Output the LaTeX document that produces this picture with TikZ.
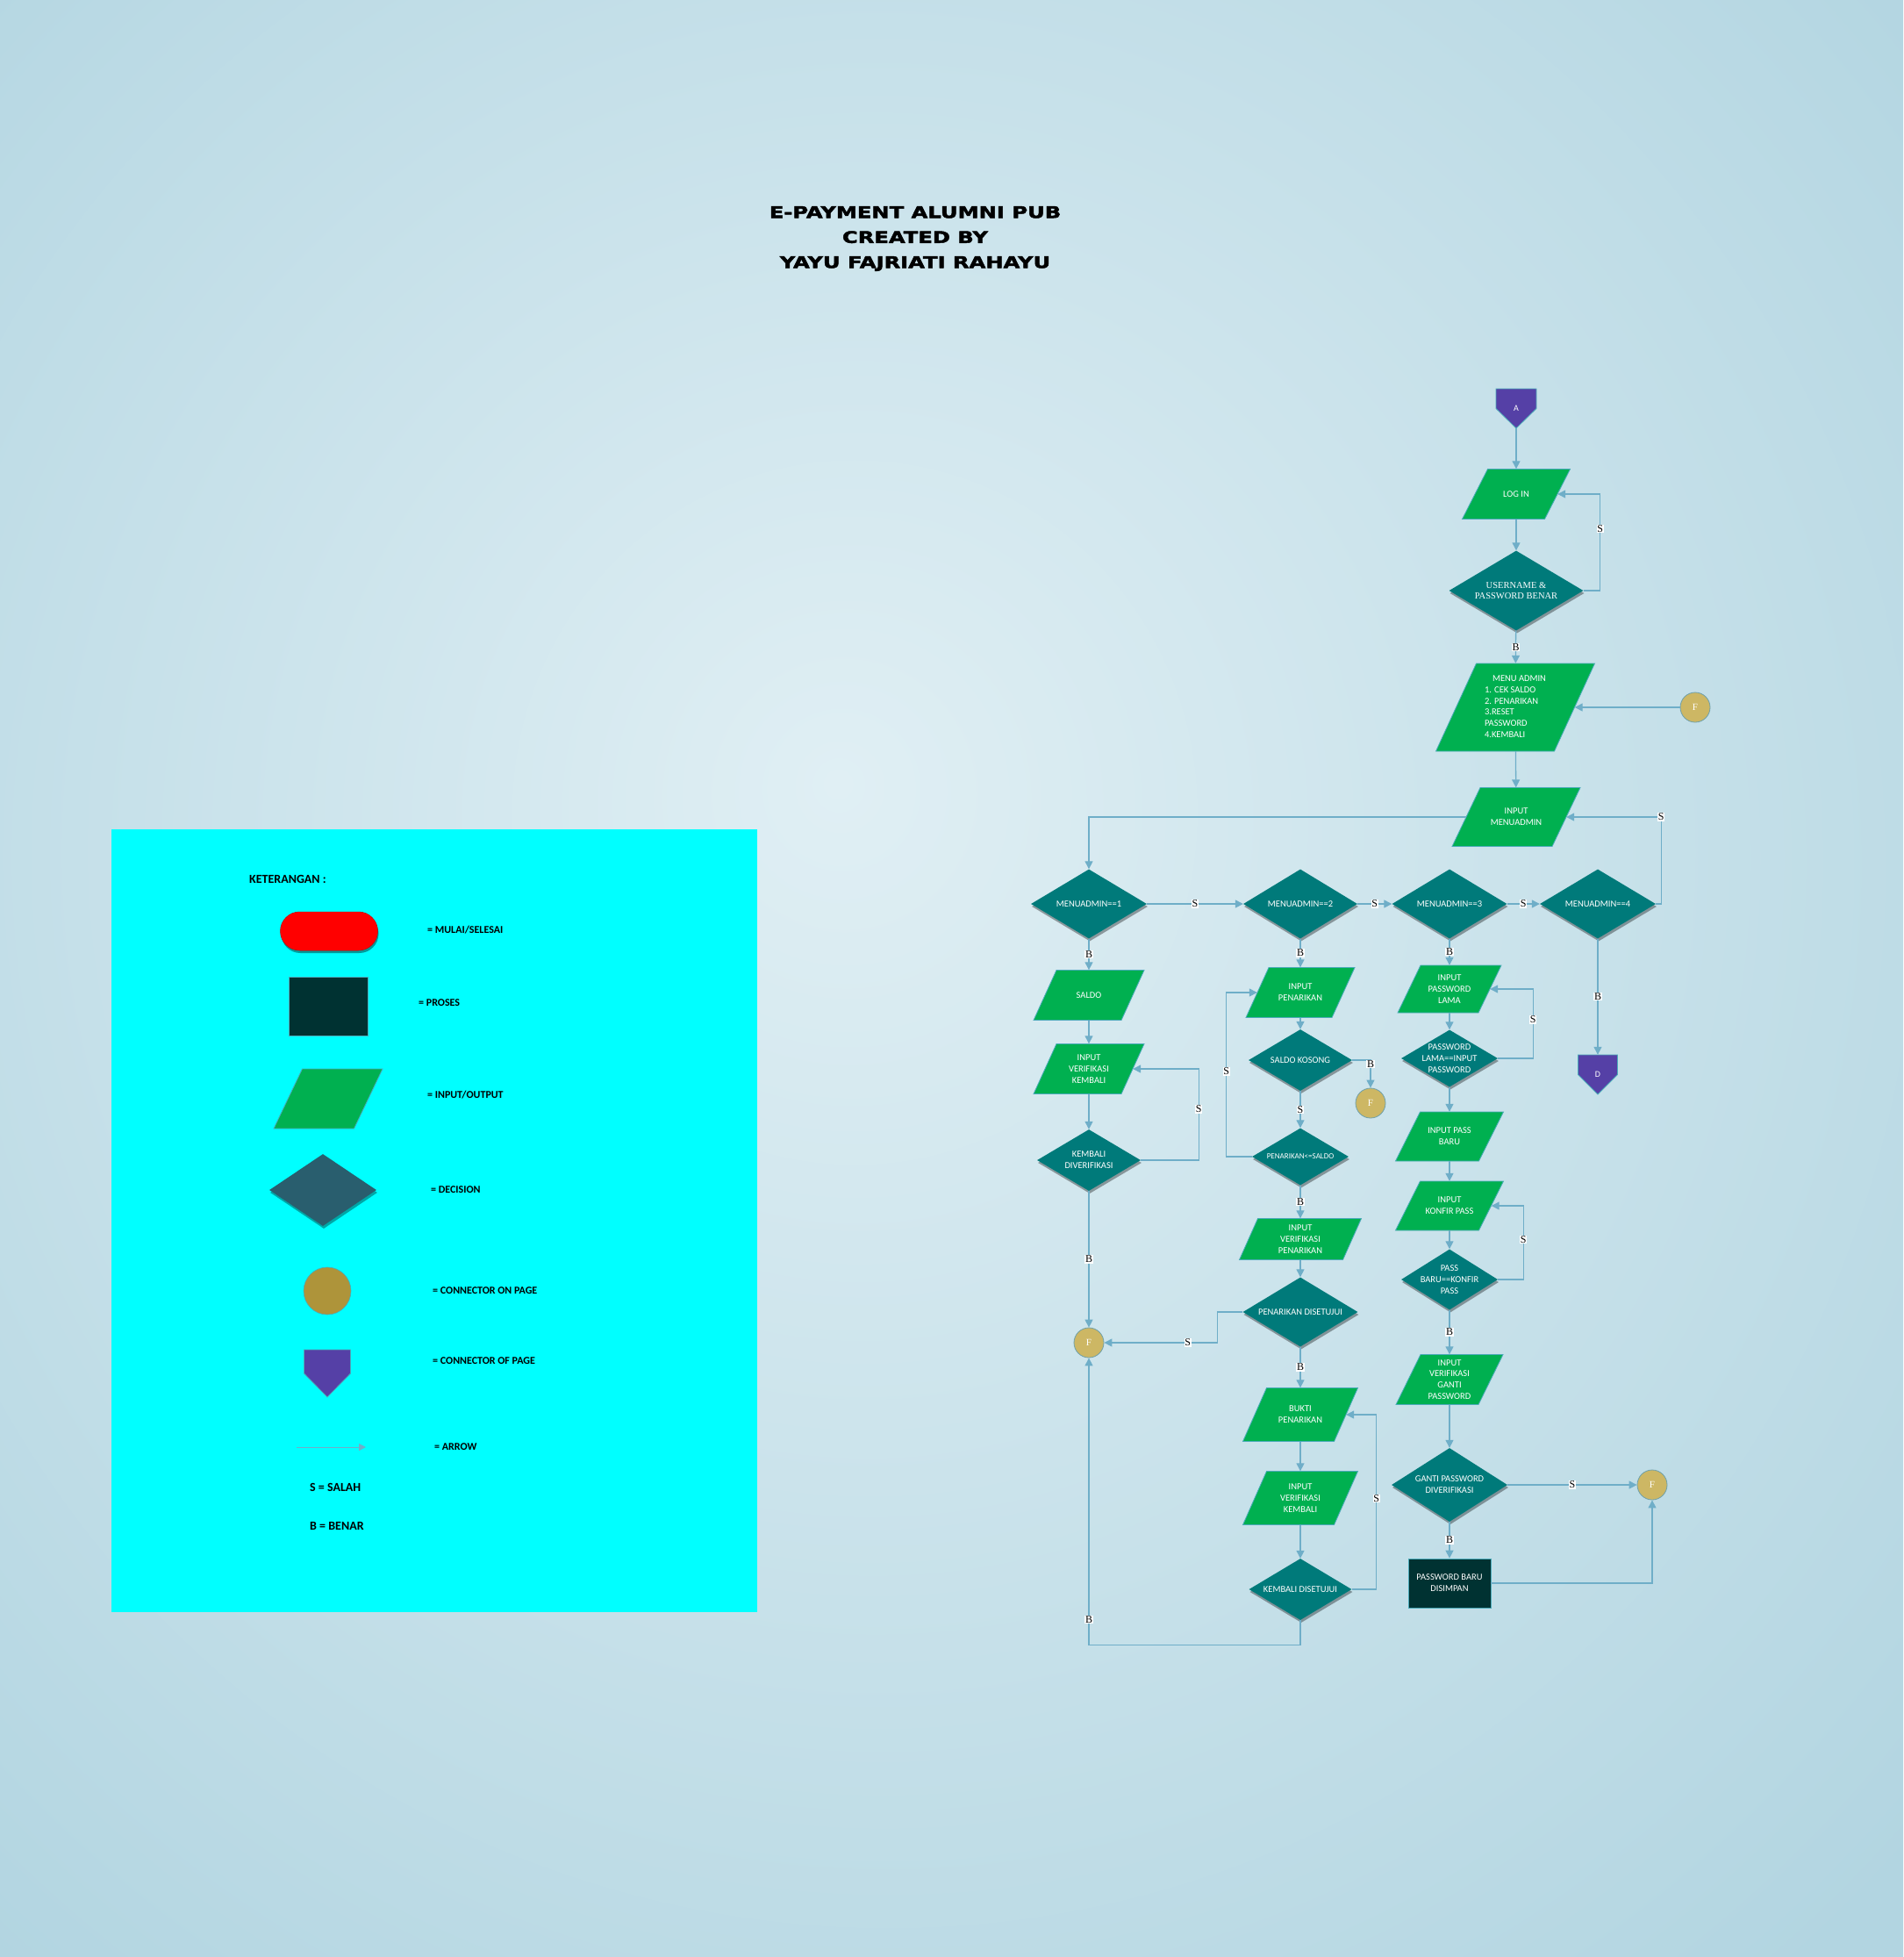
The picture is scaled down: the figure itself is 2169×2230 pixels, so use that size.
\documentclass[tikz,border=0pt]{standalone}
\usepackage{fontspec}
\setmainfont{Carlito}
\newfontfamily\serifface{Liberation Serif}
\newfontfamily\titleface[FakeStretch=1.33,FakeBold=2.5]{DejaVu Sans}
\usetikzlibrary{shapes.geometric,arrows.meta,shadows}
\definecolor{bgin}{RGB}{224,239,244}
\definecolor{bgout}{RGB}{178,213,225}
\definecolor{ioc}{RGB}{0,176,80}
\definecolor{iobord}{RGB}{75,170,185}
\definecolor{decc}{RGB}{0,122,122}
\definecolor{procc}{RGB}{0,50,50}
\definecolor{onc}{RGB}{205,183,100}
\definecolor{onbord}{RGB}{110,160,170}
\definecolor{offc}{RGB}{85,64,166}
\definecolor{arrowc}{RGB}{111,174,200}
\definecolor{legcyan}{RGB}{0,255,255}
\definecolor{legdec}{RGB}{41,94,110}
\definecolor{legon}{RGB}{174,148,58}
\pgfdeclareradialshading{bgshade}{\pgfpoint{-3bp}{5bp}}{color(0bp)=(bgin); color(36bp)=(bgout); color(60bp)=(bgout)}
\newcommand\iobox[7]{%
  \path[iofill] (#2-#4/2+#6/2,#3-#5/2) -- (#2+#4/2+#6/2,#3-#5/2) -- (#2+#4/2-#6/2,#3+#5/2) -- (#2-#4/2-#6/2,#3+#5/2) -- cycle;
  \node[iotext, minimum width=#4pt, minimum height=#5pt] (#1) at (#2,#3) {#7};}
\newcommand\offpg[6]{%
  \path[offfill] (#2-#4/2,#3) -- (#2+#4/2,#3) -- (#2+#4/2,#3+#5/2) -- (#2,#3+#5) -- (#2-#4/2,#3+#5/2) -- cycle;
  \node[offtext, minimum width=#4pt, minimum height=#5pt] (#1) at (#2,#3+#5/2) {#6};}
\tikzset{
  arr/.style={draw=arrowc, line width=1.3pt, -{Triangle[length=9pt,width=9pt]}},
  iofill/.style={fill=ioc, draw=iobord, line width=0.8pt},
  iotext/.style={rectangle, inner sep=0pt, text=white, align=center, font=\fontsize{10.5}{12.8}\selectfont},
  dec/.style={diamond, inner sep=0pt, fill=decc, drop shadow={shadow xshift=1pt, shadow yshift=-3pt, opacity=0.35, fill=black}},
  dtext/.style={text=white, align=center, inner sep=0pt, font=\fontsize{10.5}{12.8}\selectfont},
  onpage/.style={circle, minimum size=34pt, inner sep=0pt, fill=onc, draw=onbord, line width=0.8pt, text=white, font=\serifface\fontsize{11}{11}\selectfont},
  offfill/.style={fill=offc, draw=iobord, line width=0.8pt},
  offtext/.style={rectangle, inner sep=0pt, text=white, font=\fontsize{10}{10}\selectfont},
  proc/.style={rectangle, fill=procc, draw=iobord, line width=0.8pt, text=white, align=center, inner sep=0pt, font=\fontsize{10.5}{12.8}\selectfont},
  lbl/.style={fill=white, inner sep=0.7pt, text=black, font=\serifface\fontsize{12}{12}\selectfont},
  legtext/.style={anchor=west, text=black, inner sep=0pt, font=\bfseries\fontsize{12}{12}\selectfont},
  legbig/.style={anchor=west, text=black, inner sep=0pt, font=\bfseries\fontsize{14}{14}\selectfont},
  titlestyle/.style={align=center, text=black, inner sep=0pt, font=\titleface\bfseries\fontsize{18.2}{28.5}\selectfont},
}
\begin{document}
\begin{tikzpicture}[x=1pt,y=-1pt]
\useasboundingbox (0,0) rectangle (2169,2230);
\shade[shading=bgshade] (0,0) rectangle (2169,2230);

% title
\node[titlestyle] (title) at (1043,272) {E-PAYMENT ALUMNI PUB\\CREATED BY\\YAYU FAJRIATI RAHAYU};

% legend
\fill[legcyan] (127,945) rectangle (863,1837);
\node[legbig] (ket) at (284,1002) {KETERANGAN :};
\node[rectangle, rounded corners=22pt, minimum width=111pt, minimum height=44pt, fill=red, draw=red!80!black, line width=0.5pt, drop shadow={shadow xshift=1pt, shadow yshift=-3pt, opacity=0.4, fill=black}] (lterm) at (375,1061) {};
\node[legtext] (lterm-t) at (487,1060) {= MULAI/SELESAI};
\node[rectangle, fill=procc, draw=iobord, line width=0.8pt, minimum width=90pt, minimum height=67pt] (lproc) at (374,1147) {};
\node[legtext] (lproc-t) at (477,1143) {= PROSES};
\iobox{lio}{374}{1252}{91.5}{68}{32.5}{}
\node[legtext] (lio-t) at (487,1248) {= INPUT/OUTPUT};
\node[dec, fill=legdec, minimum width=122pt, minimum height=82pt] (ldec) at (368,1356) {};
\node[legtext] (ldec-t) at (491,1356) {= DECISION};
\node[circle, minimum size=54pt, inner sep=0pt, fill=legon, draw=iobord, line width=0.6pt] (lon) at (373,1471) {};
\node[legtext] (lon-t) at (493,1471) {= CONNECTOR ON PAGE};
\offpg{loff}{373}{1538}{53}{54}{}
\node[legtext] (loff-t) at (493,1551) {= CONNECTOR OF PAGE};
\coordinate (la1) at (338,1649);
\coordinate (la2) at (417,1649);
\draw[arr, line width=1pt, -{Triangle[length=8pt,width=8pt]}] (la1) -- (la2);
\node[legtext] (larr-t) at (495,1649) {= ARROW};
\node[legbig] (ls) at (353,1695) {S = SALAH};
\node[legbig] (lb) at (353,1739) {B = BENAR};

% ===== flowchart =====
\offpg{A}{1728}{443}{46}{45}{A}
\iobox{login}{1728}{563}{94}{57}{29}{LOG IN}
\node[dec, minimum width=153pt, minimum height=91pt, label={[dtext, font=\serifface\fontsize{10.5}{12}\selectfont]center:USERNAME \&\\PASSWORD BENAR}] (user) at (1728,673) {};
\iobox{menu}{1727}{806}{135}{100}{46}{\begin{tabular}{@{}l@{}}\hspace*{9pt}MENU ADMIN\\1. CEK SALDO\\2. PENARIKAN\\3.RESET\\PASSWORD\\4.KEMBALI\end{tabular}}
\node[onpage] (fR) at (1932,806) {F};
\iobox{inmenu}{1728}{931}{114}{67}{32}{INPUT\\MENUADMIN}

\node[dec, minimum width=132pt, minimum height=79pt, label={[dtext]center:MENUADMIN==1}] (m1) at (1241,1030) {};
\node[dec, minimum width=130pt, minimum height=79pt, label={[dtext]center:MENUADMIN==2}] (m2) at (1482,1030) {};
\node[dec, minimum width=131pt, minimum height=79pt, label={[dtext]center:MENUADMIN==3}] (m3) at (1652,1030) {};
\node[dec, minimum width=132pt, minimum height=79pt, label={[dtext]center:MENUADMIN==4}] (m4) at (1821,1030) {};

% column 1
\iobox{saldo}{1241}{1134}{100}{57}{26}{SALDO}
\iobox{inverk1}{1241}{1218}{100}{57}{26}{INPUT\\VERIFIKASI\\KEMBALI}
\node[dec, minimum width=118pt, minimum height=70pt, label={[dtext]center:KEMBALI\\DIVERIFIKASI}] (kdiv) at (1241,1322) {};
\node[onpage] (fL) at (1241,1530) {F};

% column 2
\iobox{inpen}{1482}{1131}{98}{57}{26}{INPUT\\PENARIKAN}
\node[dec, minimum width=118pt, minimum height=70pt, label={[dtext]center:SALDO KOSONG}] (skosong) at (1482,1208) {};
\node[onpage] (fSK) at (1562,1257) {F};
\node[dec, minimum width=110pt, minimum height=65pt, label={[dtext, font=\fontsize{9}{10}\selectfont]center:PENARIKAN<=SALDO}] (pensaldo) at (1482,1318) {};
\iobox{inverpen}{1482}{1412}{118}{47}{21}{INPUT\\VERIFIKASI\\PENARIKAN}
\node[dec, minimum width=131pt, minimum height=79pt, label={[dtext]center:PENARIKAN DISETUJUI}] (pendis) at (1482,1495) {};
\iobox{bukti}{1482}{1612}{104}{61}{27}{BUKTI\\PENARIKAN}
\iobox{inverk2}{1482}{1707}{104}{61}{27}{INPUT\\VERIFIKASI\\KEMBALI}
\node[dec, minimum width=117pt, minimum height=70pt, label={[dtext]center:KEMBALI DISETUJUI}] (kdis) at (1482,1811) {};

% column 3
\iobox{inplama}{1652}{1127}{92}{54}{26}{INPUT\\PASSWORD\\LAMA}
\node[dec, minimum width=110pt, minimum height=65pt, label={[dtext]center:PASSWORD\\LAMA==INPUT\\PASSWORD}] (plama) at (1652,1206) {};
\iobox{inpbaru}{1652}{1295}{95}{56}{28}{INPUT PASS\\BARU}
\iobox{inkonfir}{1652}{1374}{95}{56}{28}{INPUT\\KONFIR PASS}
\node[dec, minimum width=110pt, minimum height=69pt, label={[dtext]center:PASS\\BARU==KONFIR\\PASS}] (pbaru) at (1652,1458) {};
\iobox{inverganti}{1652}{1572}{94}{57}{28}{INPUT\\VERIFIKASI\\GANTI\\PASSWORD}
\node[dec, minimum width=132pt, minimum height=84pt, label={[dtext]center:GANTI PASSWORD\\DIVERIFIKASI}] (gantidiv) at (1652,1692) {};
\node[onpage] (fG) at (1883,1692) {F};
\node[proc, minimum width=94pt, minimum height=56pt] (pbs) at (1652,1804) {PASSWORD BARU\\DISIMPAN};

% column 4
\offpg{D}{1821}{1202}{45}{45}{D}

% ===== connectors =====
\draw[arr] (A) -- (login);
\draw[arr] (login) -- (user);
\draw[arr] (user) -- node[lbl]{B} (menu);
\draw[arr] (user.east) -- ++(19,0) |- node[lbl,pos=0.32]{S} (login.east);
\draw[arr] (fR) -- (menu);
\draw[arr] (menu) -- (inmenu);
\draw[arr] (inmenu.west) -| (m1.north);
\draw[arr] (m1) -- node[lbl]{S} (m2);
\draw[arr] (m2) -- node[lbl]{S} (m3);
\draw[arr] (m3) -- node[lbl]{S} (m4);
\draw[arr] (m4.east) -- ++(6,0) |- node[lbl,pos=0.5]{S} (inmenu.east);

\draw[arr] (m1) -- node[lbl]{B} (saldo);
\draw[arr] (saldo) -- (inverk1);
\draw[arr] (inverk1) -- (kdiv);
\draw[arr] (kdiv.east) -- ++(66,0) |- node[lbl,pos=0.28]{S} (inverk1.east);
\draw[arr] (kdiv) -- node[lbl]{B} (fL);

\draw[arr] (m2) -- node[lbl]{B} (inpen);
\draw[arr] (inpen) -- (skosong);
\draw[arr] (skosong.east) -| node[lbl,pos=0.57]{B} (fSK.north);
\draw[arr] (skosong) -- node[lbl]{S} (pensaldo);
\draw[arr] (pensaldo.west) -- ++(-29,0) |- node[lbl,pos=0.26]{S} (inpen.west);
\draw[arr] (pensaldo) -- node[lbl]{B} (inverpen);
\draw[arr] (inverpen) -- (pendis);
\draw[arr] (pendis.west) -- ++(-29,0) |- node[lbl,pos=0.63]{S} (fL.east);
\draw[arr] (pendis) -- node[lbl]{B} (bukti);
\draw[arr] (bukti) -- (inverk2);
\draw[arr] (inverk2) -- (kdis);
\draw[arr] (kdis.east) -- ++(28,0) |- node[lbl,pos=0.26]{S} (bukti.east);
\draw[arr] (kdis.south) -- ++(0,28) -| node[lbl,pos=0.544]{B} (fL.south);

\draw[arr] (m3) -- node[lbl]{B} (inplama);
\draw[arr] (inplama) -- (plama);
\draw[arr] (plama.east) -- ++(40,0) |- node[lbl,pos=0.28]{S} (inplama.east);
\draw[arr] (plama) -- (inpbaru);
\draw[arr] (inpbaru) -- (inkonfir);
\draw[arr] (inkonfir) -- (pbaru);
\draw[arr] (pbaru.east) -- ++(29,0) |- node[lbl,pos=0.27]{S} (inkonfir.east);
\draw[arr] (pbaru) -- node[lbl]{B} (inverganti);
\draw[arr] (inverganti) -- (gantidiv);
\draw[arr] (gantidiv) -- node[lbl]{S} (fG);
\draw[arr] (gantidiv) -- node[lbl]{B} (pbs);
\draw[arr] (pbs.east) -| (fG.south);

\draw[arr] (m4) -- node[lbl]{B} (D);
\end{tikzpicture}
\end{document}
